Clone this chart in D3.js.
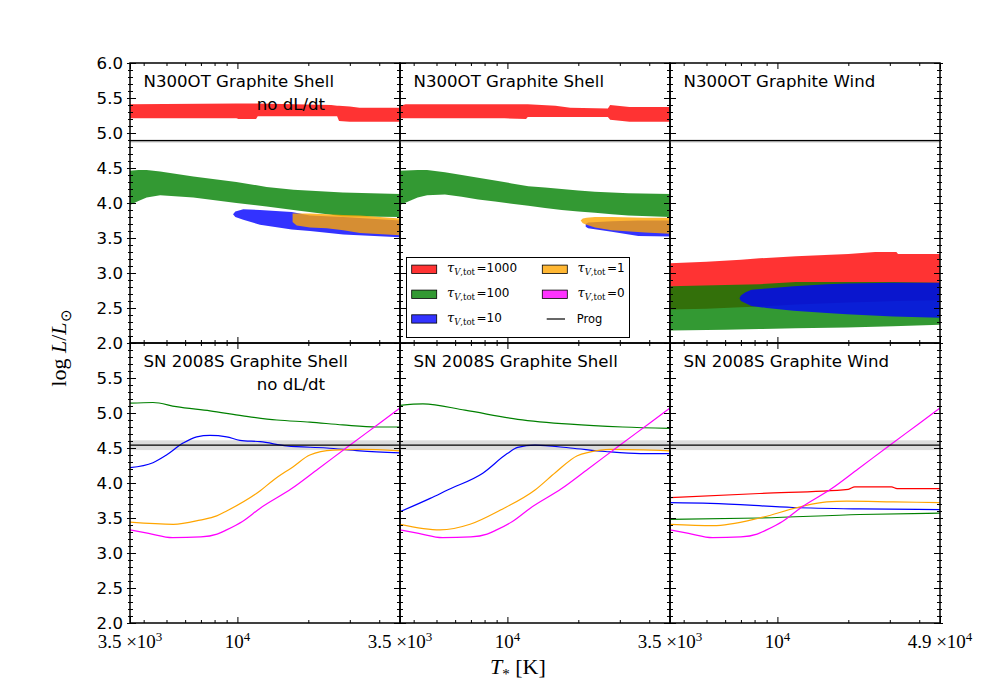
<!DOCTYPE html>
<html><head><meta charset="utf-8">
<script src="https://cdn.jsdelivr.net/npm/d3@7"></script>
<style>body{margin:0;background:#fff} svg{display:block}</style>
</head><body><svg id="c" width="1000" height="700"></svg>
<script>
// ---------------- DATA ----------------
// bands: [T, logL_low, logL_high]
const n300ShellNoDtRed = [[3500,5.21,5.41],[9900,5.21,5.42],[10100,5.20,5.42],[12000,5.20,5.42],[12200,5.24,5.42],[25000,5.24,5.40],[26500,5.24,5.39],[27000,5.17,5.39],[30000,5.16,5.38],[33000,5.16,5.36],[49000,5.16,5.36]];
const n300ShellNoDtGreen = [[3500,3.97,4.46],[3800,4.03,4.47],[4120,4.08,4.47],[4700,4.11,4.45],[6500,4.08,4.38],[9900,4.00,4.30],[13300,3.95,4.23],[17300,3.90,4.19],[28000,3.81,4.15],[49000,3.80,4.13]];
const n300ShellNoDtBlue = [[9580,3.84,3.84],[9800,3.80,3.88],[10590,3.76,3.91],[12470,3.69,3.90],[17000,3.62,3.87],[20330,3.60,3.82],[28150,3.55,3.80],[49000,3.51,3.75]];
const n300ShellNoDtOrange = [[17150,3.73,3.85],[17850,3.68,3.85],[20330,3.65,3.85],[23930,3.64,3.84],[28150,3.61,3.83],[33140,3.57,3.82],[49000,3.54,3.78]];

const n300ShellRed = [[3500,5.21,5.39],[3700,5.21,5.41],[9700,5.21,5.41],[12000,5.20,5.41],[12200,5.23,5.41],[16000,5.23,5.39],[18500,5.23,5.36],[26700,5.23,5.35],[27300,5.19,5.40],[33000,5.16,5.37],[49000,5.16,5.37]];
const n300ShellGreen = [[3500,3.97,4.46],[4160,4.08,4.47],[4560,4.11,4.47],[5430,4.12,4.44],[6400,4.09,4.40],[7520,4.05,4.36],[8860,4.02,4.32],[10430,3.99,4.28],[12270,3.96,4.24],[14440,3.93,4.22],[17000,3.90,4.20],[20000,3.88,4.18],[23540,3.86,4.16],[27710,3.84,4.15],[32600,3.82,4.14],[49000,3.80,4.13]];
const n300ShellBlue = [[21500,3.66,3.70],[22000,3.64,3.72],[27710,3.59,3.74],[35950,3.53,3.75],[49000,3.52,3.75]];
const n300ShellOrange = [[20460,3.75,3.75],[20900,3.71,3.78],[21700,3.69,3.79],[23540,3.65,3.80],[27710,3.61,3.80],[38370,3.58,3.79],[49000,3.56,3.79]];

const n300WindRed = [[3500,2.48,3.14],[5000,2.49,3.16],[7000,2.51,3.19],[8400,2.52,3.21],[12000,2.55,3.24],[20000,2.58,3.27],[26000,2.59,3.30],[32000,2.60,3.30],[32500,2.60,3.27],[49000,2.61,3.27]];
const n300WindGreen = [[3500,2.18,2.81],[6000,2.19,2.83],[8400,2.20,2.84],[12000,2.21,2.87],[19700,2.22,2.87],[31000,2.24,2.87],[49000,2.26,2.86]];
const n300WindBlue = [[6900,2.64,2.64],[7000,2.60,2.68],[7290,2.57,2.72],[7750,2.53,2.76],[9000,2.50,2.78],[11700,2.46,2.81],[16200,2.43,2.84],[19700,2.41,2.85],[31000,2.38,2.86],[49000,2.36,2.86]];

// lines: [T, logL]
const tau0Magenta = [[3500,3.33],[4200,3.28],[5300,3.22],[7000,3.23],[8200,3.27],[9000,3.33],[10500,3.45],[12500,3.64],[17000,3.92],[22000,4.20],[30000,4.54],[40000,4.85],[49000,5.07]];

const sbShellNoDtGreen = [[3500,5.14],[4380,5.15],[5500,5.09],[7650,5.03],[10560,4.96],[14700,4.90],[20300,4.87],[28000,4.83],[39000,4.80],[49000,4.80]];
const sbShellNoDtBlue = [[3500,4.22],[4380,4.29],[5000,4.40],[5880,4.57],[6720,4.66],[7650,4.68],[9000,4.66],[10250,4.61],[12500,4.59],[16200,4.53],[23900,4.50],[33100,4.46],[49000,4.43]];
const sbShellNoDtOrange = [[3500,3.44],[5350,3.41],[6940,3.47],[8170,3.53],[9000,3.60],[12500,3.89],[14200,4.04],[17200,4.23],[20300,4.40],[25500,4.47],[33100,4.48],[49000,4.46]];

const sbShellGreen = [[3500,5.11],[4380,5.13],[6600,5.04],[11060,4.91],[18500,4.84],[30900,4.80],[49000,4.78]];
const sbShellBlue = [[3500,3.59],[4700,3.78],[5570,3.90],[7860,4.14],[9980,4.42],[11060,4.51],[13100,4.54],[18500,4.50],[26000,4.45],[36700,4.42],[49000,4.42]];
const sbShellOrange = [[3500,3.41],[5180,3.33],[6940,3.41],[9300,3.61],[13100,3.90],[16000,4.15],[19800,4.39],[22300,4.44],[27400,4.48],[49000,4.46]];

const sbWindRed = [[3500,3.79],[8400,3.85],[20000,3.91],[21300,3.945],[30500,3.945],[32200,3.92],[49000,3.92]];
const sbWindBlue = [[3500,3.72],[5200,3.71],[11650,3.65],[22400,3.63],[49000,3.62]];
const sbWindGreen = [[3500,3.48],[8400,3.50],[22400,3.55],[49000,3.57]];
const sbWindOrange = [[3500,3.41],[5330,3.39],[8400,3.50],[12500,3.66],[16200,3.73],[19700,3.74],[31000,3.73],[49000,3.72]];

// progenitor luminosity: [low, value, high]
const progN300 = [4.86, 4.89, 4.91];
const progSN2008S = [4.47, 4.54, 4.61];

const titlesTop = ['N300OT Graphite Shell', 'N300OT Graphite Shell', 'N300OT Graphite Wind'];
const titlesBottom = ['SN 2008S Graphite Shell', 'SN 2008S Graphite Shell', 'SN 2008S Graphite Wind'];
const subTitle = 'no dL/dt';

const yMajor = [2.0, 2.5, 3.0, 3.5, 4.0, 4.5, 5.0, 5.5, 6.0];
const yMinor = d3.range(20, 61).map(v => v / 10).filter(v => Math.round(v * 10) % 5 !== 0);
const xMajor = [3500, 10000, 49000];
const xMajorMant = ['3.5 ×10', '10', '4.9 ×10'];
const xMajorExp = ['3', '4', '4'];
const xMinor = [4000, 5000, 6000, 7000, 8000, 9000, 20000, 30000, 40000];

const legendLabels = ['1000', '100', '10', '1', '0'];
const legendColors = ['red', 'green', 'blue', 'orange', 'magenta'];

const colorMap = {red: '#ff0000', green: '#008000', blue: '#0000ff', orange: '#ffa500', magenta: '#ff00ff'};

// ---------------- LAYOUT ----------------
const svg = d3.select('#c');
const L = 130, T0 = 63, PW = 270, PH = 280;
const x = d3.scaleLog().domain([3500, 49000]).range([0, PW]);
const y = d3.scaleLinear().domain([2, 6]).range([PH, 0]);

const panels = [
  {col:0,row:0,title:titlesTop[0],sub:true,prog:progN300,bands:[['red',n300ShellNoDtRed],['green',n300ShellNoDtGreen],['blue',n300ShellNoDtBlue],['orange',n300ShellNoDtOrange]],lines:[]},
  {col:1,row:0,title:titlesTop[1],sub:false,prog:progN300,bands:[['red',n300ShellRed],['green',n300ShellGreen],['blue',n300ShellBlue],['orange',n300ShellOrange]],lines:[]},
  {col:2,row:0,title:titlesTop[2],sub:false,prog:progN300,bands:[['red',n300WindRed],['green',n300WindGreen],['blue',n300WindBlue]],lines:[]},
  {col:0,row:1,title:titlesBottom[0],sub:true,prog:progSN2008S,bands:[],lines:[['green',sbShellNoDtGreen],['blue',sbShellNoDtBlue],['orange',sbShellNoDtOrange],['magenta',tau0Magenta]]},
  {col:1,row:1,title:titlesBottom[1],sub:false,prog:progSN2008S,bands:[],lines:[['green',sbShellGreen],['blue',sbShellBlue],['orange',sbShellOrange],['magenta',tau0Magenta]]},
  {col:2,row:1,title:titlesBottom[2],sub:false,prog:progSN2008S,bands:[],lines:[['red',sbWindRed],['green',sbWindGreen],['blue',sbWindBlue],['orange',sbWindOrange],['magenta',tau0Magenta]]}
];

const area = d3.area().x(d => x(d[0])).y0(d => y(d[1])).y1(d => y(d[2]));
const line = d3.line().x(d => x(d[0])).y(d => y(d[1])).curve(d3.curveMonotoneX);

function styleTicks(g) {
  g.select('.domain').remove();
  g.selectAll('line').attr('stroke', '#000').attr('stroke-width', 1);
}

panels.forEach((p, i) => {
  const g = svg.append('g').attr('transform', `translate(${L + p.col * PW},${T0 + p.row * PH})`);
  const cid = 'clip' + i;
  g.append('clipPath').attr('id', cid).append('rect').attr('width', PW).attr('height', PH);
  const plot = g.append('g').attr('clip-path', `url(#${cid})`);

  // progenitor band
  plot.append('rect').attr('x', 0).attr('width', PW)
    .attr('y', y(p.prog[2])).attr('height', y(p.prog[0]) - y(p.prog[2]))
    .attr('fill', '#dcdcdc');

  p.bands.forEach(([c, d]) => {
    plot.append('path').datum(d).attr('d', area).attr('fill', colorMap[c]).attr('fill-opacity', 0.8);
  });
  p.lines.forEach(([c, d]) => {
    plot.append('path').datum(d).attr('d', line).attr('fill', 'none').attr('stroke', colorMap[c]).attr('stroke-width', 1.2);
  });

  plot.append('line').attr('x1', 0).attr('x2', PW).attr('y1', y(p.prog[1])).attr('y2', y(p.prog[1]))
    .attr('stroke', '#000').attr('stroke-width', 1.3);

  // titles
  g.append('text').attr('x', 13.5).attr('y', 24).attr('font-family', 'DejaVu Sans').attr('font-size', 16.6).text(p.title);
  if (p.sub) g.append('text').attr('x', 126.7).attr('y', 47).attr('font-family', 'DejaVu Sans').attr('font-size', 16.6).text(subTitle);

  // y axes (inout ticks)
  const fmt = d3.format('.1f');
  const yl = g.append('g').call(d3.axisLeft(y).tickValues(yMajor).tickSize(3).tickPadding(4)
      .tickFormat(d => p.col === 0 && !(p.row === 1 && d === 6) ? fmt(d) : ''))
    .attr('font-family', 'DejaVu Sans').attr('font-size', 16.6);
  styleTicks(yl); yl.selectAll('line').attr('x1', 6);
  yl.selectAll('text').attr('fill', '#000');
  const ylm = g.append('g').call(d3.axisLeft(y).tickValues(yMinor).tickSize(2).tickFormat(''));
  styleTicks(ylm); ylm.selectAll('line').attr('x1', 3);
  const yr = g.append('g').attr('transform', `translate(${PW},0)`).call(d3.axisRight(y).tickValues(yMajor).tickSize(3).tickFormat(''));
  styleTicks(yr); yr.selectAll('line').attr('x1', -6);
  const yrm = g.append('g').attr('transform', `translate(${PW},0)`).call(d3.axisRight(y).tickValues(yMinor).tickSize(2).tickFormat(''));
  styleTicks(yrm); yrm.selectAll('line').attr('x1', -3);

  // x axes (in ticks)
  const xb = g.append('g').attr('transform', `translate(0,${PH})`).call(d3.axisBottom(x).tickValues(xMajor).tickSizeInner(-6).tickSizeOuter(0).tickFormat(''));
  styleTicks(xb);
  const xbm = g.append('g').attr('transform', `translate(0,${PH})`).call(d3.axisBottom(x).tickValues(xMinor).tickSizeInner(-3).tickSizeOuter(0).tickFormat(''));
  styleTicks(xbm);
  const xt = g.append('g').call(d3.axisTop(x).tickValues(xMajor).tickSizeInner(-6).tickSizeOuter(0).tickFormat(''));
  styleTicks(xt);
  const xtm = g.append('g').call(d3.axisTop(x).tickValues(xMinor).tickSizeInner(-3).tickSizeOuter(0).tickFormat(''));
  styleTicks(xtm);

  if (p.row === 1) {
    xMajor.forEach((v, k) => {
      if (k === 2 && p.col !== 2) return;
      const t = g.append('text').attr('x', x(v)).attr('y', PH + 25).attr('text-anchor', 'middle')
        .attr('font-family', 'Liberation Serif').attr('font-size', 19);
      t.append('tspan').text(xMajorMant[k]);
      t.append('tspan').attr('font-size', 13).attr('dy', -7).text(xMajorExp[k]);
    });
  }

  // spines
  g.append('rect').attr('width', PW).attr('height', PH).attr('fill', 'none').attr('stroke', '#000').attr('stroke-width', 1.5);
});

// legend
const lg = svg.append('g').attr('transform', 'translate(406.5,257.5)');
lg.append('rect').attr('width', 223).attr('height', 80).attr('fill', '#fff').attr('stroke', '#000').attr('stroke-width', 1);
const rowY = [11.8, 36.8, 61.5];
const entries = legendLabels.map((lab, k) => ({lab, color: legendColors[k], col: k < 3 ? 0 : 1, row: k % 3}));
entries.forEach(e => {
  const px = e.col === 0 ? 5.2 : 135.8;
  const tx = e.col === 0 ? 40.5 : 171;
  lg.append('rect').attr('x', px).attr('y', rowY[e.row] - 4.2).attr('width', 25).attr('height', 8.3)
    .attr('fill', colorMap[e.color]).attr('fill-opacity', 0.8).attr('stroke', '#000').attr('stroke-width', 0.8);
  const t = lg.append('text').attr('x', tx).attr('y', rowY[e.row] + 3);
  t.append('tspan').attr('font-family', 'DejaVu Serif').attr('font-style', 'italic').attr('font-size', 13).text('τ');
  t.append('tspan').attr('font-family', 'DejaVu Serif').attr('font-style', 'italic').attr('font-size', 8.5).attr('dy', 3).text('V');
  t.append('tspan').attr('font-family', 'DejaVu Serif').attr('font-size', 8.5).text(',tot');
  t.append('tspan').attr('font-family', 'DejaVu Sans').attr('font-size', 12).attr('dy', -3).attr('dx', 1.5).text('=' + e.lab);
});
lg.append('line').attr('x1', 140.2).attr('x2', 158.5).attr('y1', rowY[2]).attr('y2', rowY[2]).attr('stroke', '#000').attr('stroke-width', 1.2);
lg.append('text').attr('x', 170.2).attr('y', rowY[2] + 4).attr('font-family', 'DejaVu Sans').attr('font-size', 11.5).text('Prog');

// axis labels
const xl = svg.append('text').attr('x', 490).attr('y', 674).attr('font-family', 'Liberation Serif').attr('font-size', 22);
xl.append('tspan').attr('font-style', 'italic').text('T');
xl.append('tspan').attr('font-size', 15).attr('dy', 5).text('*');
xl.append('tspan').attr('dy', -5).text(' [K]');

const yl = svg.append('text').attr('transform', 'translate(66,348) rotate(-90)').attr('text-anchor', 'middle')
  .attr('font-family', 'Liberation Serif').attr('font-size', 22);
yl.append('tspan').text('log ');
yl.append('tspan').attr('font-style', 'italic').text('L');
yl.append('tspan').text('/');
yl.append('tspan').attr('font-style', 'italic').text('L');
yl.append('tspan').attr('font-size', 15).attr('dy', 5).text('⊙');
</script>
</body></html>
